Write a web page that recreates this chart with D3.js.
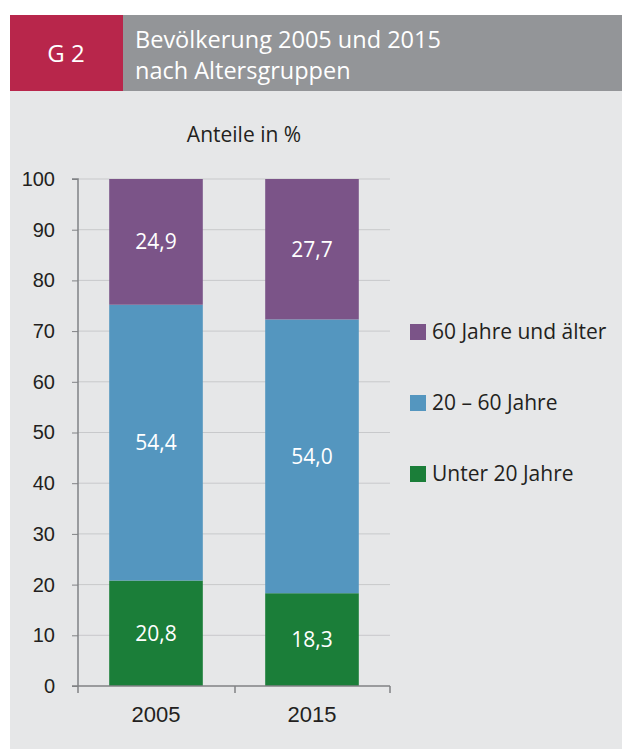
<!DOCTYPE html>
<html>
<head>
<meta charset="utf-8">
<script src="https://cdn.jsdelivr.net/npm/d3@7"></script>
<style>
	body { margin: 0; background: #ffffff; }
	svg { display: block; font-family: 'Open Sans', 'Noto Sans', sans-serif; }
</style>
</head>
<body>
<svg id="viz" width="622" height="749"></svg>
<script>
var years = [ '2005', '2015' ];
var groups = [ 'under20', 'mid', 'over60' ];
var under20 = [ 20.8, 18.3 ];
var mid = [ 54.4, 54.0 ];
var over60 = [ 24.9, 27.7 ];
var yTicks = [ 0, 10, 20, 30, 40, 50, 60, 70, 80, 90, 100 ];

var names = {
	under20: 'Unter 20 Jahre',
	mid: '20 – 60 Jahre',
	over60: '60 Jahre und älter'
};
var colors = {
	under20: '#1b7e39',
	mid: '#5496bf',
	over60: '#7b5488'
};

var svg = d3.select( '#viz' );

// panel + header
svg.append( 'rect' ).attr( 'x', 10 ).attr( 'y', 90 ).attr( 'width', 612 ).attr( 'height', 659 ).attr( 'fill', '#e6e7e8' );
svg.append( 'rect' ).attr( 'x', 10 ).attr( 'y', 15 ).attr( 'width', 612 ).attr( 'height', 76 ).attr( 'fill', '#939598' );
svg.append( 'rect' ).attr( 'x', 10 ).attr( 'y', 15 ).attr( 'width', 113 ).attr( 'height', 76 ).attr( 'fill', '#b8264b' );
svg.append( 'text' ).attr( 'x', 66 ).attr( 'y', 62 ).attr( 'text-anchor', 'middle' )
	.attr( 'fill', '#fff' ).style( 'font-size', '24px' ).text( 'G 2' );
svg.append( 'text' ).attr( 'x', 135 ).attr( 'y', 48 )
	.attr( 'fill', '#fff' ).style( 'font-size', '23.5px' ).text( 'Bevölkerung 2005 und 2015' );
svg.append( 'text' ).attr( 'x', 135 ).attr( 'y', 79 )
	.attr( 'fill', '#fff' ).style( 'font-size', '23.5px' ).text( 'nach Altersgruppen' );

svg.append( 'text' ).attr( 'x', 244 ).attr( 'y', 142 ).attr( 'text-anchor', 'middle' )
	.attr( 'fill', '#231f20' ).style( 'font-size', '21px' ).text( 'Anteile in %' );

var x = d3.scaleBand().domain( years ).range( [ 78, 390 ] ).paddingInner( 0.4 ).paddingOuter( 0.2 );
var y = d3.scaleLinear().domain( [ 0, 100 ] ).range( [ 686, 179 ] );

// gridlines
svg.append( 'g' ).selectAll( 'line' )
	.data( yTicks.slice( 1 ) )
	.enter()
	.append( 'line' )
	.attr( 'x1', 78 ).attr( 'x2', 390 )
	.attr( 'y1', function ( d ) { return y( d ); } )
	.attr( 'y2', function ( d ) { return y( d ); } )
	.attr( 'stroke', '#c8c9cb' ).attr( 'stroke-width', 1 );

var rows = years.map( function ( d, i ) {
	return { year: d, under20: under20[i], mid: mid[i], over60: over60[i] };
} );
var stacked = d3.stack().keys( groups )( rows );

var layers = svg.append( 'g' ).selectAll( 'g' )
	.data( stacked )
	.enter()
	.append( 'g' )
	.attr( 'fill', function ( d ) { return colors[d.key]; } );

layers.selectAll( 'rect' )
	.data( function ( d ) { return d; } )
	.enter()
	.append( 'rect' )
	.attr( 'x', function ( d ) { return x( d.data.year ); } )
	.attr( 'width', x.bandwidth() )
	.attr( 'y', function ( d ) { return y( Math.min( d[1], 100 ) ); } )
	.attr( 'height', function ( d ) { return y( d[0] ) - y( Math.min( d[1], 100 ) ); } );

layers.selectAll( 'text' )
	.data( function ( d ) { return d; } )
	.enter()
	.append( 'text' )
	.attr( 'x', function ( d ) { return x( d.data.year ) + x.bandwidth() / 2; } )
	.attr( 'y', function ( d ) { return ( y( d[0] ) + y( Math.min( d[1], 100 ) ) ) / 2; } )
	.attr( 'dy', '0.35em' )
	.attr( 'text-anchor', 'middle' )
	.attr( 'fill', '#fff' )
	.style( 'font-size', '21px' )
	.text( function ( d ) { return d3.format( '.1f' )( d[1] - d[0] ).replace( '.', ',' ); } );

// y axis
var yAxis = svg.append( 'g' )
	.attr( 'transform', 'translate(78,0)' )
	.call( d3.axisLeft( y ).tickValues( yTicks ).tickSize( 6 ).tickPadding( 17 ) );
yAxis.selectAll( 'text' ).style( 'font-size', '20px' ).attr( 'fill', '#231f20' );
yAxis.selectAll( 'line' ).attr( 'stroke', '#808285' );
yAxis.select( '.domain' ).attr( 'stroke', '#808285' ).attr( 'stroke-width', 1.5 ).attr( 'd', 'M-6,179H0V686' );

// x axis
var xAxis = svg.append( 'g' )
	.attr( 'transform', 'translate(0,686)' )
	.call( d3.axisBottom( x ).tickSize( 0 ).tickPadding( 20 ) );
xAxis.selectAll( 'text' ).style( 'font-size', '22px' ).attr( 'fill', '#231f20' );
xAxis.select( '.domain' ).attr( 'stroke', '#808285' ).attr( 'stroke-width', 1.5 ).attr( 'd', 'M72,0H390' );
xAxis.selectAll( 'line.sep' )
	.data( [ 78, 235, 390 ] )
	.enter()
	.append( 'line' )
	.classed( 'sep', true )
	.attr( 'x1', function ( d ) { return d; } )
	.attr( 'x2', function ( d ) { return d; } )
	.attr( 'y1', 0 ).attr( 'y2', 7 )
	.attr( 'stroke', '#808285' ).attr( 'stroke-width', 1.5 );

// legend
var legend = svg.append( 'g' ).selectAll( 'g' )
	.data( groups.slice().reverse() )
	.enter()
	.append( 'g' )
	.attr( 'transform', function ( d, i ) { return 'translate(410,' + ( 324 + i * 71 ) + ')'; } );
legend.append( 'rect' )
	.attr( 'width', 16 ).attr( 'height', 16 )
	.attr( 'fill', function ( d ) { return colors[d]; } );
legend.append( 'text' )
	.attr( 'x', 22 ).attr( 'y', 8 ).attr( 'dy', '0.35em' )
	.attr( 'fill', '#231f20' )
	.style( 'font-size', '21px' )
	.text( function ( d ) { return names[d]; } );
</script>
</body>
</html>
